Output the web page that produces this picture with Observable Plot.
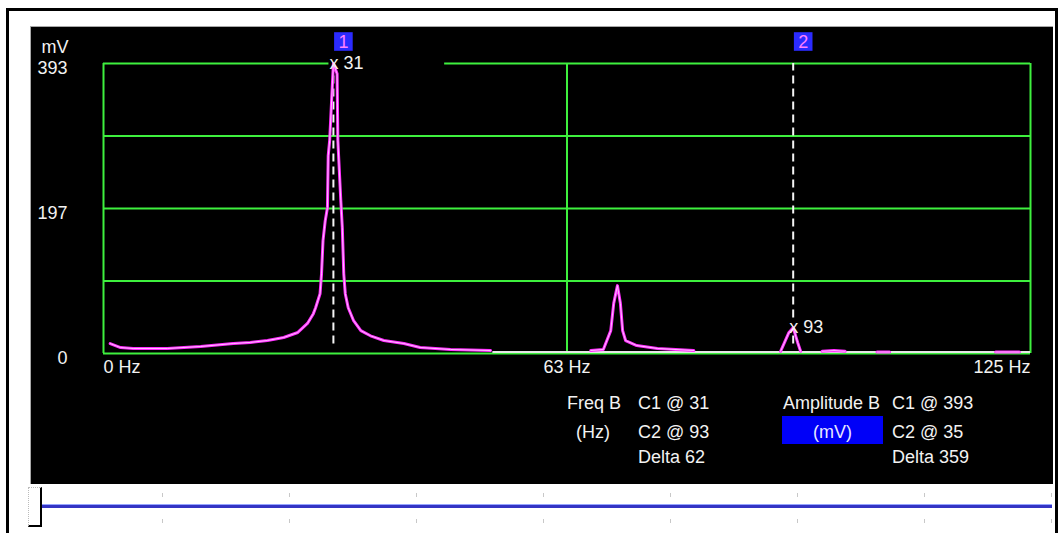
<!DOCTYPE html>
<html>
<head>
<meta charset="utf-8">
<script src="https://cdn.jsdelivr.net/npm/d3@7"></script>
<script src="https://cdn.jsdelivr.net/npm/@observablehq/plot@0.6"></script>
<style>
  body { margin: 0; background: #fff; }
  #wrap { position: relative; width: 1061px; height: 533px; overflow: hidden; font-family: "Liberation Sans", Arial, sans-serif; font-size: 18px; }
  .abs { position: absolute; }
  .txt { position: absolute; color: #f2f2f2; white-space: nowrap; line-height: 20px; }
  #plot { position: absolute; left: 0; top: 0; }
</style>
</head>
<body>
<div id="wrap">
  <div class="abs" style="left:6px;top:8px;width:1046px;height:600px;border:3px solid #000;"></div>
  <div class="abs" style="left:30px;top:26px;width:1022px;height:457px;background:#000;border-top:1px solid #a8a8a8;border-left:1px solid #a8a8a8;"></div>
  <div id="plot"></div>
  <div id="readout"></div>
  <div id="slider"></div>
</div>
<script>
// ---- data ----
const freqDomain = [0, 125];          // Hz
const ampDomain = [0, 393];           // mV
const gridFreq = [0, 62.5, 125];
const gridAmp = [0, 98.25, 196.5, 294.75, 393];
const xTickValues = [0, 62.5, 125];
const xTickLabels = ["0 Hz", "63 Hz", "125 Hz"];
const yTickValues = [0, 196.5, 393];
const yTickLabels = ["0", "197", "393"];
const yUnit = "mV";

// spectrum trace (0 = sits on the white zero baseline)
const specFreq = [0.9, 2.3, 4.0, 8.6, 13.1, 17.5, 19.8, 22.1, 24.3, 26.2, 27.5, 28.3, 28.6, 29.2, 29.4, 29.6, 29.9, 30.2, 30.3, 30.5,
  31.0, 31.5, 31.6, 32.0, 32.2, 32.4, 32.6, 33.0, 33.7, 34.7, 36.0, 37.8, 40.5, 42.7, 46.8, 52.2, 53.5,
  65.2, 65.7, 67.4, 68.4, 68.8, 69.3, 69.7, 70.0, 70.4, 71.9, 74.7, 79.6, 80.5,
  90.8, 91.3, 92.4, 93.0, 93.6, 94.0, 94.5,
  96.5, 96.9, 98.5, 100.0, 100.4,
  104.0, 104.3, 106.0, 106.3,
  120.0, 120.3, 123.5, 123.8];
const specAmp = [13.5, 8, 6.8, 6.8, 9.5, 13.5, 15, 17.6, 21.7, 28.5, 40.7, 54, 62, 81, 108, 153, 180, 198, 268, 289,
  393, 379, 289, 207, 171, 108, 81, 62, 45, 31, 24, 17.6, 13.5, 8.1, 5.4, 4, 0,
  0, 4, 5.4, 31, 68, 92, 68, 31, 17.6, 10.8, 6.8, 4, 0,
  0, 3, 28, 35, 15, 3, 0,
  0, 3, 4, 3, 0,
  0, 2, 2, 0,
  0, 2, 2, 0];
const zeroBaseFrom = [52.5];
const zeroBaseTo = [125];

// cursors
const cursorId = ["1", "2"];
const cursorFreq = [31, 93];
const cursorAmp = [393, 35];
const cursorLabel = ["x 31", "x 93"];

// readout panel
const freqHeader = ["Freq B", "(Hz)"];
const freqReadout = ["C1 @ 31", "C2 @ 93", "Delta 62"];
const ampHeader = ["Amplitude B", "(mV)"];
const ampReadout = ["C1 @ 393", "C2 @ 35", "Delta 359"];

// ---- build ----
const spectrum = specFreq.map((f, i) => ({f, a: specAmp[i]}));
const cursors = cursorId.map((id, i) => ({id, f: cursorFreq[i], a: cursorAmp[i], label: cursorLabel[i]}));
const baseSeg = zeroBaseFrom.map((x1, i) => ({x1, x2: zeroBaseTo[i], y: 0}));
const xTicks = xTickValues.map((v, i) => ({v, t: xTickLabels[i]}));
const yTicks = yTickValues.map((v, i) => ({v, t: yTickLabels[i]}));
const green = "#3ef03e";
const topAmp = ampDomain[1];

const chart = Plot.plot({
  width: 1061, height: 533,
  marginLeft: 103, marginRight: 31, marginTop: 63, marginBottom: 180,
  x: {domain: freqDomain, axis: null},
  y: {domain: ampDomain, axis: null},
  style: {background: "transparent", fontFamily: "'Liberation Sans', Arial, sans-serif", fontSize: "18px", color: "#f2f2f2", overflow: "visible"},
  marks: [
    Plot.ruleY(gridAmp, {stroke: green, strokeWidth: 2}),
    Plot.ruleX(gridFreq, {stroke: green, strokeWidth: 2}),
    Plot.ruleY(baseSeg, {y: "y", x1: "x1", x2: "x2", stroke: "#e6e6e6", strokeWidth: 2, dy: -1.5}),
    Plot.ruleX(cursors, {x: "f", y1: 13, y2: topAmp, stroke: "#f4f4f4", strokeWidth: 2, strokeDasharray: "8,5"}),
    Plot.rect(cursors, {x1: d => d.f - 0.6, x2: d => d.f + 15, y1: d => d.a - 8, y2: d => d.a + 12, fill: "#000"}),
    Plot.line(spectrum, {x: "f", y: d => d.a > 0 ? d.a : NaN, stroke: "#ff2cff", strokeWidth: 3}),
    Plot.line(spectrum, {x: "f", y: d => d.a > 0 ? d.a : NaN, stroke: "#ffc0ff", strokeWidth: 1}),
    Plot.text(cursors, {x: "f", y: "a", text: "label", textAnchor: "start", dx: -4, fill: "#f2f2f2"}),
    Plot.dot(cursors, {x: "f", y: topAmp, symbol: "square", r: 10.5, fill: "#2b2bff", dx: 10, dy: -22}),
    Plot.text(cursors, {x: "f", y: topAmp, text: "id", dx: 10, dy: -21, fill: "#ff80ff"}),
    Plot.text(yTicks, {y: "v", text: "t", frameAnchor: "left", textAnchor: "end", dx: -36, dy: 5, fill: "#f2f2f2"}),
    Plot.text([yUnit], {frameAnchor: "top-left", textAnchor: "end", dx: -35, dy: -23, fill: "#f2f2f2"}),
    Plot.text(xTicks.slice(0, 1), {x: "v", text: "t", frameAnchor: "bottom", textAnchor: "start", dy: 19, fill: "#f2f2f2"}),
    Plot.text(xTicks.slice(1, 2), {x: "v", text: "t", frameAnchor: "bottom", textAnchor: "middle", dy: 19, fill: "#f2f2f2"}),
    Plot.text(xTicks.slice(2), {x: "v", text: "t", frameAnchor: "bottom", textAnchor: "end", dy: 19, fill: "#f2f2f2"})
  ]
});
document.getElementById("plot").append(chart);

// readout panel (HTML text)
const ro = document.getElementById("readout");
function addText(str, left, top, extra) {
  const d = document.createElement("div");
  d.className = "txt";
  d.textContent = str;
  d.style.left = left + "px";
  d.style.top = top + "px";
  if (extra) Object.assign(d.style, extra);
  ro.append(d);
  return d;
}
const rowTops = [393, 422, 447];
addText(freqHeader[0], 567, rowTops[0]);
addText(freqHeader[1], 560, rowTops[1], {width: "66px", textAlign: "center"});
freqReadout.forEach((s, i) => addText(s, 638, rowTops[i]));
addText(ampHeader[0], 783, rowTops[0]);
const box = document.createElement("div");
box.className = "abs";
Object.assign(box.style, {left: "782px", top: "416px", width: "101px", height: "28px", background: "#0000f8"});
ro.append(box);
addText(ampHeader[1], 782, 422, {width: "101px", textAlign: "center", color: "#e8e8ff"});
ampReadout.forEach((s, i) => addText(s, 892, rowTops[i]));

// slider
const sl = document.getElementById("slider");
const track = document.createElement("div");
track.className = "abs";
Object.assign(track.style, {left: "38px", top: "504px", width: "1014px", height: "3px", background: "#3434c4", borderTop: "1px solid #95a4ff"});
sl.append(track);
for (let i = 0; i < 8; i++) {
  const x = 162 + i * 127;
  [493, 519].forEach(y => {
    const t = document.createElement("div");
    t.className = "abs";
    Object.assign(t.style, {left: x + "px", top: y + "px", width: "1px", height: "4px", background: "#c8c8c8"});
    sl.append(t);
  });
}
const thumb = document.createElement("div");
thumb.className = "abs";
Object.assign(thumb.style, {left: "28px", top: "487px", width: "11px", height: "37px", background: "#fff",
  borderLeft: "1px dotted #bbb", borderTop: "1px dotted #bbb", borderRight: "2px solid #000", borderBottom: "2px solid #000"});
sl.append(thumb);
</script>
</body>
</html>
